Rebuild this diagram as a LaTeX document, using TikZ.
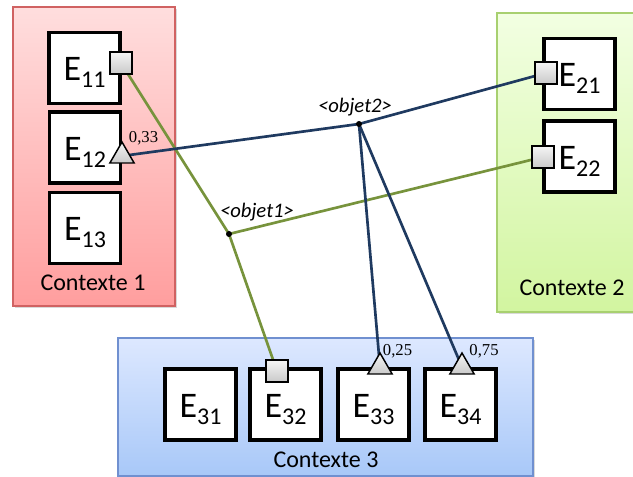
\documentclass[tikz,border=0pt]{standalone}
\usepackage{fontspec}
\setmainfont{Carlito}
\newfontfamily\numfont{Liberation Serif}
\usetikzlibrary{shapes.geometric,shadows}
\pgfdeclarelayer{bg}
\pgfdeclarelayer{wires}
\pgfsetlayers{bg,wires,main}
\definecolor{rougeh}{HTML}{FFDEDE}
\definecolor{rougeb}{HTML}{FF9E9E}
\definecolor{rouget}{HTML}{D06262}
\definecolor{verth}{HTML}{F2FFE2}
\definecolor{vertb}{HTML}{D2F5A0}
\definecolor{vertt}{HTML}{A8D070}
\definecolor{bleuh}{HTML}{DDE8FF}
\definecolor{bleub}{HTML}{A8C8F8}
\definecolor{bleut}{HTML}{7090D0}
\definecolor{lienvert}{HTML}{77933C}
\definecolor{lienbleu}{HTML}{1F3A60}
\newcommand\ent[1]{E\raisebox{-5.25pt}{\fontsize{18}{18}\selectfont #1}}
\begin{document}
\begin{tikzpicture}[x=0.75pt,y=-0.75pt,
  ctx/.style={draw,line width=1.1pt,inner sep=0pt,
    drop shadow={shadow xshift=1.5pt,shadow yshift=-1.5pt,opacity=.3}},
  entite/.style={draw,fill=white,line width=2.6pt,minimum size=53.5pt,inner sep=0pt,
    text height=24.75pt,text depth=5.25pt,font=\fontsize{27}{27}\selectfont},
  port/.style={draw,line width=1.1pt,top color=gray!8,bottom color=gray!42,
    minimum size=16.5pt,inner sep=0pt},
  tri/.style={regular polygon,regular polygon sides=3,draw,line width=1.1pt,
    top color=gray!8,bottom color=gray!42,minimum size=21pt,inner sep=0pt},
  jonction/.style={circle,fill=black,minimum size=4.5pt,inner sep=0pt},
  ctxlab/.style={font=\fontsize{18}{18}\selectfont},
  objlab/.style={font=\fontsize{15.5}{15.5}\selectfont\itshape},
  card/.style={font=\numfont\fontsize{12.5}{12.5}\selectfont},
  vert/.style={draw=lienvert,line width=2pt},
  bleu/.style={draw=lienbleu,line width=2pt}]
\useasboundingbox (0,0) rectangle (633,477);
\begin{pgfonlayer}{bg}
\path node[ctx,draw=rouget,top color=rougeh,bottom color=rougeb,
  minimum width=121.5pt,minimum height=224.25pt] (C1) at (94,156.5) {}
node[ctx,draw=vertt,top color=verth,bottom color=vertb,
  minimum width=111pt,minimum height=224.25pt] (C2) at (571,162.5) {}
node[ctx,draw=bleut,top color=bleuh,bottom color=bleub,
  minimum width=311.25pt,minimum height=103.5pt] (C3) at (325.5,407) {}
;
\end{pgfonlayer}
\path node[ctxlab] (N1) at (93,283) {Contexte 1}
node[ctxlab] (N2) at (572,288) {Contexte 2}
node[ctxlab] (N3) at (326,460) {Contexte 3}
node[entite] (E11) at (84.5,68) {\ent{11}}
node[entite] (E12) at (85,147.5) {\ent{12}}
node[entite] (E13) at (85,228) {\ent{13}}
node[entite] (E21) at (579.5,74) {\ent{21}}
node[entite] (E22) at (579.5,156.5) {\ent{22}}
node[entite] (E31) at (200.5,404.5) {\ent{31}}
node[entite] (E32) at (285.5,404.5) {\ent{32}}
node[entite] (E33) at (373.5,404.5) {\ent{33}}
node[entite] (E34) at (460.5,404.5) {\ent{34}}
node[port] (P11) at (121,63) {}
node[port] (P21) at (546,73) {}
node[port] (P22) at (543,157) {}
node[port] (P32) at (277,371) {}
node[tri] (T12) at (122,156) {}
node[tri] (T33) at (380,367) {}
node[tri] (T34) at (462,367) {}
node[card] (K12) at (143.5,138.5) {0,33}
node[card] (K33) at (397.5,351) {0,25}
node[card] (K34) at (484,351) {0,75}
node[jonction] (O1) at (229,234) {}
node[jonction] (O2) at (359,124) {}
node[objlab] (L1) at (257,212) {<objet1>}
node[objlab] (L2) at (355,107) {<objet2>}
;
\begin{pgfonlayer}{wires}
\draw[vert] (P11.center) -- (O1.center) -- (P32.center);
\draw[vert] (O1.center) -- (P22.center);
\draw[bleu] (T12.center) -- (O2.center) -- (P21.center);
\draw[bleu] (O2.center) -- (T33.center);
\draw[bleu] (O2.center) -- (T34.center);
\end{pgfonlayer}
\end{tikzpicture}
\end{document}
